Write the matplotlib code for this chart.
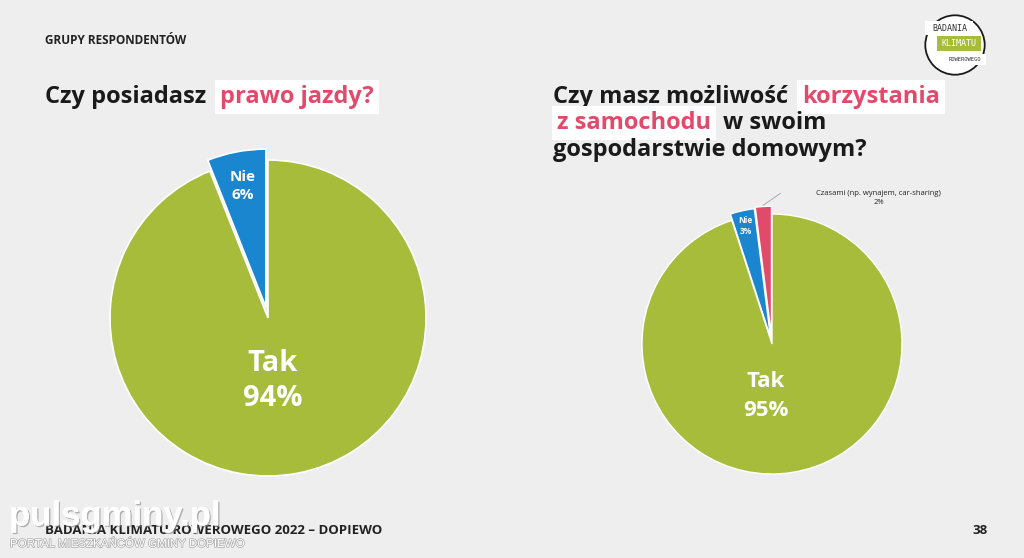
import matplotlib
matplotlib.use("Agg")
import matplotlib.pyplot as plt
import matplotlib.patheffects as pe
from matplotlib.patches import Circle, Rectangle
import numpy as np

plt.rcParams['font.family'] = ['Open Sans', 'DejaVu Sans']

# data
left_labels = ['Nie', 'Tak']
left_values = [6, 94]
right_labels = ['Czasami (np. wynajem, car-sharing)', 'Nie', 'Tak']
right_values = [2, 3, 95]

GREEN = '#a8bc3c'
BLUE = '#1a86d0'
PINK = '#e24a6c'
BG = '#eeeeee'
W, H = 1024, 558

fig = plt.figure(figsize=(W / 100, H / 100), dpi=100, facecolor=BG)
renderer = fig.canvas.get_renderer()


def fx(px):
    return px / W


def fy(py):
    return 1 - py / H


def text_run(x, y, parts, size):
    # parts: list of (text, color, highlighted)
    cur = x
    for s, col, hl in parts:
        kw = {}
        if hl:
            cur += 6
            kw['bbox'] = dict(facecolor='white', edgecolor='none', pad=3.5)
        t = fig.text(fx(cur), fy(y), s, color=col, fontsize=size,
                     fontweight='bold', va='center', ha='left', **kw)
        ext = t.get_window_extent(renderer)
        cur += ext.width + (12 if hl else 8)


# header
fig.text(fx(45), fy(40), 'GRUPY RESPONDENTÓW', fontsize=8.5, fontweight='bold',
         color='#222222', va='center')

text_run(45, 97, [('Czy posiadasz', '#1a1a1a', False), ('prawo jazdy?', PINK, True)], 17)
text_run(553, 97, [('Czy masz możliwość', '#1a1a1a', False), ('korzystania', PINK, True)], 17)
text_run(551, 123, [('z samochodu', PINK, True), ('w swoim', '#1a1a1a', False)], 17)
text_run(553, 150, [('gospodarstwie domowym?', '#1a1a1a', False)], 17)


def pie_axes(cx, cy, r):
    half = 1.1 * r
    ax = fig.add_axes([fx(cx - half), fy(cy + half), 2 * half / W, 2 * half / H])
    return ax


def fix_limits(ax):
    ax.set_xlim(-1.1, 1.1)
    ax.set_ylim(-1.1, 1.1)
    ax.axis('off')


def wedge_pos(w, rf):
    ang = np.deg2rad((w.theta1 + w.theta2) / 2)
    cx, cy = w.center
    return cx + rf * w.r * np.cos(ang), cy + rf * w.r * np.sin(ang)


# left pie
ax1 = pie_axes(268, 318, 158)
w1, _ = ax1.pie(left_values, colors=[BLUE, GREEN], startangle=90, counterclock=True,
                explode=[0.07, 0], wedgeprops=dict(edgecolor='white', linewidth=1.2))
fix_limits(ax1)
x, y = wedge_pos(w1[0], 0.78)
ax1.text(x, y, f'{left_labels[0]}\n{left_values[0]}%', color='white', fontsize=11,
         fontweight='bold', ha='center', va='center', linespacing=1.35)
ax1.text(0.03, -0.4, f'{left_labels[1]}\n{left_values[1]}%', color='white', fontsize=21,
         fontweight='bold', ha='center', va='center', linespacing=1.3)

# right pie
ax2 = pie_axes(772, 344, 130)
w2, _ = ax2.pie(right_values, colors=[PINK, BLUE, GREEN], startangle=90, counterclock=True,
                explode=[0.06, 0.05, 0], wedgeprops=dict(edgecolor='white', linewidth=1.0))
fix_limits(ax2)
x, y = wedge_pos(w2[1], 0.88)
ax2.text(x, y, f'{right_labels[1]}\n{right_values[1]}%', color='white', fontsize=6,
         fontweight='bold', ha='center', va='center', linespacing=1.15)
ax2.text(-0.05, -0.4, f'{right_labels[2]}\n{right_values[2]}%', color='white', fontsize=16,
         fontweight='bold', ha='center', va='center', linespacing=1.45)
px, py = wedge_pos(w2[0], 1.0)
ax2.plot([px, px + 0.13], [py + 0.01, py + 0.1], color='#aaaaaa', lw=0.7, clip_on=False)
ax2.text(0.82, 1.12, f'{right_labels[0]}\n{right_values[0]}%',
         fontsize=5.5, ha='center', va='center', color='#222222', linespacing=1.4)

# logo
lax = fig.add_axes([fx(922), fy(78), 66 / W, 66 / H])
lax.set_xlim(-1, 1)
lax.set_ylim(-1, 1)
lax.set_aspect('equal')
lax.axis('off')
lax.add_patch(Circle((0, 0), 0.9, facecolor='white', edgecolor='#1a1a1a', lw=1.3))
lax.add_patch(Rectangle((-0.9, 0.3), 1.45, 0.42, facecolor='white', edgecolor='none'))
lax.text(-0.17, 0.51, 'BADANIA', fontsize=6, ha='center', va='center', color='#333333',
         fontfamily='DejaVu Sans Mono')
lax.add_patch(Rectangle((-0.55, -0.17), 1.35, 0.44, facecolor=GREEN, edgecolor='none'))
lax.text(0.12, 0.05, 'KLIMATU', fontsize=6, ha='center', va='center', color='white',
         fontfamily='DejaVu Sans Mono')
lax.add_patch(Rectangle((-0.35, -0.62), 1.3, 0.36, facecolor='white', edgecolor='none'))
lax.text(0.3, -0.44, 'ROWEROWEGO', fontsize=4, ha='center', va='center', color='#333333',
         fontfamily='DejaVu Sans Mono')

# footer
fig.text(fx(45), fy(530), 'BADANIA KLIMATU ROWEROWEGO 2022 – DOPIEWO', fontsize=9.5,
         fontweight='bold', color='#222222', va='center')
fig.text(fx(988), fy(530), '38', fontsize=9.5, fontweight='bold', color='#222222',
         va='center', ha='right')

# watermark
fig.text(fx(9), fy(516), 'pulsgminy.pl', fontsize=25, fontweight='bold', color='white',
         va='center', fontfamily='Liberation Sans', alpha=0.95,
         path_effects=[pe.withSimplePatchShadow(offset=(1, -1), shadow_rgbFace='#888888', alpha=0.6),
                       pe.Normal()])
fig.text(fx(10), fy(544), 'PORTAL MIESZKAŃCÓW GMINY DOPIEWO', fontsize=8.3, color='white',
         va='center', fontfamily='Liberation Sans',
         path_effects=[pe.withStroke(linewidth=1.0, foreground='#aaaaaa')])

fig.savefig('out.png', dpi=100, facecolor=BG)
